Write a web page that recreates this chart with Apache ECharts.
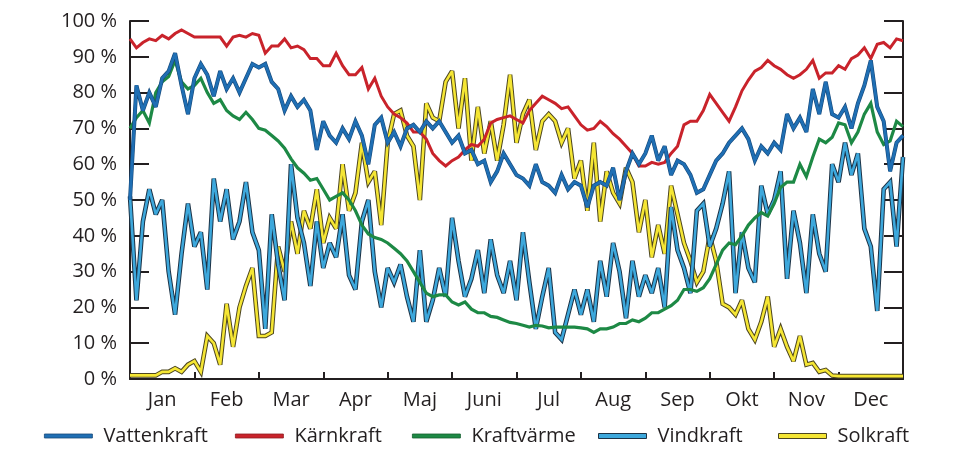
<!DOCTYPE html>
<html><head><meta charset="utf-8">
<script src="https://cdn.jsdelivr.net/npm/echarts@6/dist/echarts.min.js"></script>
<style>html,body{margin:0;padding:0;background:#fff}#c{width:969px;height:468px}</style>
</head><body><div id="c"></div>
<script>
// Month labels (x axis) — data sampled every 0.1 month from Jan start to Dec end
const months = ['Jan','Feb','Mar','Apr','Maj','Juni','Jul','Aug','Sep','Okt','Nov','Dec'];
const sampleStep = 0.1; // months between samples

const vattenkraft = [50,82,75,80,76,84,86,91,82,74,84,
  88,85,79,86,81,84,80,84,88,87,
  88,83,81,75,79,76,78,75,64,72,
  68,66,70,67,72,68,60,71,73,66,
  69,65,70,71,69,72,70,72,69,66,
  68,63,64,60,61,55,58,63,60,57,
  56,54,60,55,54,52,57,53,55,54,
  48,54,55,54,59,50,58,63,60,63,
  68,61,65,57,61,60,57,52,53,57,
  61,63,66,68,70,67,61,65,63,66,
  64,74,70,73,69,81,74,83,74,73,
  76,70,77,82,89,76,72,58,66,68];

const karnkraft = [95,92.5,94,95,94.5,96,95,96.5,97.5,96.5,95.5,
  95.5,95.5,95.5,95.5,93,95.5,96,95.5,96.5,96,
  91,93,93,95,92.5,93,92,89.5,89.5,87.5,
  87.5,91,87.5,85,85,87,81,84,79,76,
  74,73,71.5,69,69,67,63,61,59.5,61,
  62,64,65.5,65,67,71.5,72.5,73,73.5,72.5,
  71.5,75,77,79,78,77,75.5,76,73.5,71,
  69.5,70,72,70.5,68.5,67,65,63,59.5,59.5,
  60.5,60,60.5,63,65,71,72,72,75,79.5,
  77,74.5,72,76,80.5,83.5,86,87,89,87.5,
  86.5,85,84,85,86.5,89,84,85.5,85.5,87.5,
  86.5,89.5,90.5,92.5,89.5,93.5,94,92.5,95,94.5];

const kraftvarme = [70,73,75,71.5,80,83,84.5,89,83,81,82,
  84,80,77,78,75,73.5,72.5,74.5,72.5,70,
  69.5,68,66.5,64.5,61.5,59,57.5,55.5,56,53,
  50,51,52,50,47,43,40.5,39.5,39,38,
  36.5,35,33,30,27,24,23,23.5,23.5,21.5,
  20.7,21.5,19.5,18.5,18.5,17.5,17.2,16.5,15.8,15.5,
  15,14.5,15,14.8,14.3,14.5,14.5,14.5,14.5,14.3,
  14,13,14,14,14.5,15.5,15.5,16.5,16,17,
  18.5,18.5,19.5,20.5,22,25,25,24.5,25.5,28,
  32,36,38,37.5,40,43,45,46.5,45.5,49,
  53.5,55,55,60,56.5,62,67,66,67.5,71.5,
  71,66,69,74,77,69,65.5,66.5,72,70.5];

const vindkraft = [51,22,44,53,46,50,30,18,35,49,37,
  41,25,56,44,53,39,44,55,41,36,
  14,46,32,22,60,45,38,26,44,31,
  38,34,46,29,25,44,50,30,20,31,
  27,32,23,16,36,16,22,31,23,45,
  33,23,28,36,24,39,29,24,33,22,
  41,27,14,23,31,13,11,18,25,18,
  25,16,33,23,38,30,17,33,23,29,
  24,31,20,48,36,31,24,47,49,37,
  42,49,58,24,41,31,27,54,46,50,
  58,28,47,38,24,46,35,30,60,55,
  66,57,63,42,37,19,53,55,37,62];

const solkraft = [1,1,1,1,1,2,2,3,2,4,5,
  2,12,10,4,21,9,20,26,31,12,
  12,13,37,30,44,35,47,42,53,38,
  45,42,60,47,52,66,55,58,43,66,
  74,75,68,65,50,77,73,72,83,86,
  70,84,61,76,63,72,61,71,85,66,
  74,78,64,72,74,72,66,70,56,61,
  47,66,44,58,52,49,59,55,41,50,
  34,43,35,54,46,38,33,27,30,40,
  33,21,20,18,22,14,11,16,23,9,
  14,9,5,12,4,4.5,2,2.5,1,0.8,
  0.8,0.8,0.8,0.8,0.8,0.8,0.8,0.8,0.8,0.8];

const FONT = '"Open Sans", "Noto Sans", sans-serif';
const TXT = '#231f20';
const C = {
  vatten: '#1f6fb4', vattenEdge: '#17497a',
  karn: '#c9232b',
  kraft: '#1d8945',
  vind: '#3da8dc', vindEdge: '#1c3347',
  sol: '#f5e634', solEdge: '#4d4620'
};

function pts(arr){ return arr.map((v,i)=>[+(i*sampleStep).toFixed(2), v]); }
function line(name, data, color, width){
  return {name, type:'line', xAxisIndex:1, yAxisIndex:0, data:pts(data),
    showSymbol:false, symbol:'none', silent:true, animation:false,
    lineStyle:{color, width, join:'miter', miterLimit:3, cap:'butt'},
    itemStyle:{color}, emphasis:{disabled:true}};
}

const series = [
  line('_sol', solkraft, C.solEdge, 4.6),
  line('Solkraft', solkraft, C.sol, 2.6),
  line('_vind', vindkraft, C.vindEdge, 4.6),
  line('Vindkraft', vindkraft, C.vind, 2.6),
  line('Kraftvärme', kraftvarme, C.kraft, 3.2),
  line('Kärnkraft', karnkraft, C.karn, 3),
  line('_vatten', vattenkraft, C.vattenEdge, 4),
  line('Vattenkraft', vattenkraft, C.vatten, 2.8)
];

const legendItems = [
  {name:'Vattenkraft', left:44, h:4, style:{color:C.vatten, borderColor:C.vattenEdge, borderWidth:0.8}},
  {name:'Kärnkraft', left:235, h:4, style:{color:C.karn, borderColor:'#8f1c21', borderWidth:0.8}},
  {name:'Kraftvärme', left:412, h:4, style:{color:C.kraft, borderColor:'#14602f', borderWidth:0.8}},
  {name:'Vindkraft', left:598, h:5, style:{color:C.vind, borderColor:C.vindEdge, borderWidth:1}},
  {name:'Solkraft', left:778, h:5, style:{color:C.sol, borderColor:C.solEdge, borderWidth:1}}
];

const axisLine = {show:true, lineStyle:{color:TXT, width:2}};

const option = {
  animation:false,
  backgroundColor:'#fff',
  grid:{left:130, right:66, top:21, bottom:89},
  legend: legendItems.map(it => ({
    left: it.left, top: 426, padding:0, selectedMode:false,
    itemWidth:48, itemHeight:it.h,
    data:[{name:it.name, icon:'rect', itemStyle:it.style}],
    textStyle:{fontFamily:FONT, fontSize:20, color:TXT, padding:[0,0,0,6]}
  })),
  xAxis:[
    {type:'category', data:months, boundaryGap:true, position:'bottom',
     axisLine, axisTick:{show:true, inside:true, length:7, lineStyle:{color:TXT, width:2}},
     axisLabel:{fontFamily:FONT, fontSize:20, color:TXT, margin:11},
     splitLine:{show:false}},
    {type:'value', min:0, max:12, show:false, splitLine:{show:false}}
  ],
  yAxis:[
    {type:'value', min:0, max:100, interval:10, position:'left',
     axisLine, axisTick:{show:true, inside:true, length:19, lineStyle:{color:TXT, width:2}},
     axisLabel:{fontFamily:FONT, fontSize:20, color:TXT, margin:13, formatter:'{value} %'},
     splitLine:{show:false}},
    {type:'value', min:0, max:100, interval:10, position:'right',
     axisLine, axisTick:{show:true, inside:true, length:19, lineStyle:{color:TXT, width:2}},
     axisLabel:{show:false}, splitLine:{show:false}}
  ],
  series
};
const chart = echarts.init(document.getElementById('c'), null, {renderer:'canvas'});
chart.setOption(option);
</script></body></html>
